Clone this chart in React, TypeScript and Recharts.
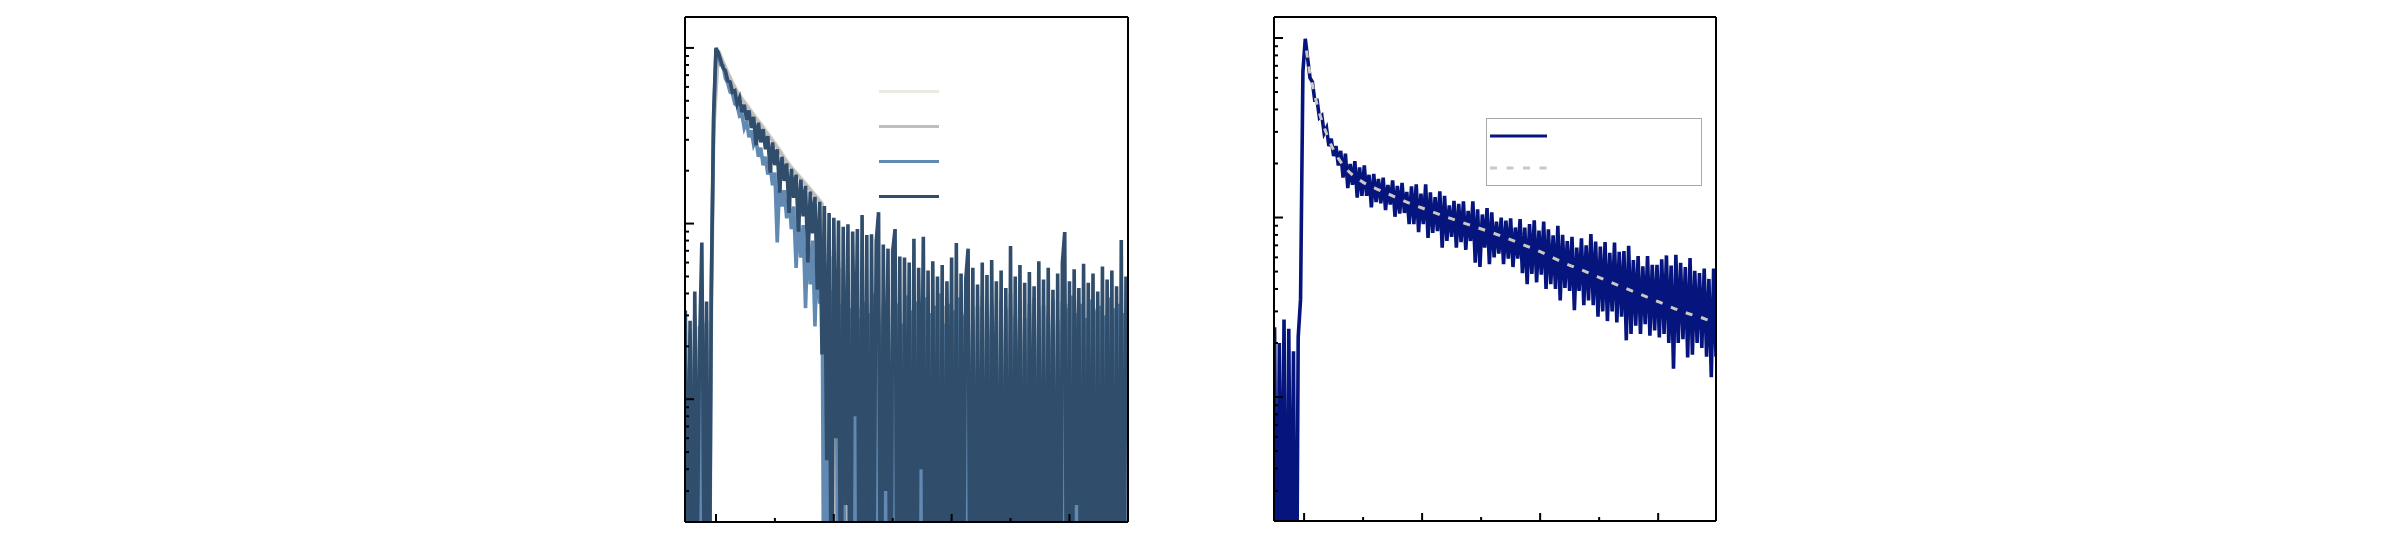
import { LineChart, Line, XAxis, YAxis, Legend } from 'recharts'

// ---- time channels (ns) ----
const LEFT_START = -2.6
const RIGHT_START = -2.5
const CHANNEL = 0.2
const COARSE_CHANNEL = 0.4

const X_TICKS = [0, 5, 10, 15, 20, 25, 30]
const Y_TICKS = [
  30, 40, 50, 60, 70, 80, 90,
  100, 200, 300, 400, 500, 600, 700, 800, 900,
  1000, 2000, 3000, 4000, 5000, 6000, 7000, 8000, 9000,
  10000,
]
const Y_MAJOR = [100, 1000, 10000]

// ---- left panel: four decays (counts) ----
const LEFT_DARK = [
  320, 6, 280, 3, 410, 12, 190, 780, 9, 360, 2, 420, 4200, 10000, 9400,
  8500, 7700, 7400, 6500, 6400, 5600, 5700, 4800, 5200, 4300,
  4750, 3900, 4400, 3500, 4050, 2800, 3750, 2900, 3450, 2650,
  3150, 1950, 2900, 2150, 2650, 1500, 2400, 1750, 2200, 1150,
  2050, 1400, 1900, 900, 1780, 1100, 1640, 600, 1520, 880,
  1420, 420, 1330, 180, 1260, 45, 1150, 3, 1080, 60,
  1040, 2, 960, 25, 990, 1, 900, 80, 930, 1,
  1120, 5, 860, 1, 870, 12, 790, 1160, 1, 760,
  30, 720, 1, 700, 930, 2, 650, 1, 640, 8,
  600, 1, 820, 1, 560, 40, 840, 1, 540, 1,
  610, 3, 500, 1, 580, 1, 470, 20, 640, 1,
  775, 1, 520, 6, 480, 720, 1, 560, 1, 450,
  2, 600, 1, 510, 1, 620, 15, 470, 1, 540,
  1, 430, 1, 745, 1, 500, 4, 580, 1, 460,
  1, 530, 10, 440, 1, 610, 1, 480, 1, 560,
  2, 420, 1, 520, 1, 600, 895, 1, 470, 1,
  550, 25, 430, 1, 590, 1, 460, 3, 520, 1,
  410, 1, 570, 1, 480, 6, 540, 1, 440, 1,
  805, 1, 500,
]

const LEFT_BLUE = [
  150, 2, 240, 3, 300, 1, 260, 2, 1, 280, 1, 380, 3900, 9800, 9000,
  8000, 7900, 6700, 6300, 5600, 5500, 4800, 4700, 4100, 4200,
  3500, 3800, 3100, 3400, 2800, 3000, 2400, 2700, 2150, 2400,
  1900, 2150, 1650, 1950, 780, 1750, 1250, 1550, 1070, 1400,
  930, 1250, 560, 1100, 640, 980, 330, 880, 450, 800,
  260, 720, 350, 650, 1, 380, 2, 420, 70, 300,
  1, 350, 1, 260, 40, 330, 1, 380, 5, 290,
  1, 360, 120, 310, 1, 400, 1, 280, 30, 340,
  1, 370, 2, 300, 1, 350, 90, 270, 1, 390,
  1, 320, 10, 360, 1, 290, 1, 380, 50, 310,
  1, 340, 1, 400, 3, 270, 1, 350, 1, 320,
  20, 380, 1, 300, 1, 360, 1, 290, 8, 340,
  1, 390, 1, 310, 60, 350, 1, 280, 1, 370,
  2, 330, 1, 400, 1, 300, 15, 360, 1, 290,
  1, 350, 1, 380, 4, 320, 1, 340, 1, 300,
  30, 370, 1, 280, 1, 360, 1, 330, 6, 390,
  1, 310, 1, 350, 1, 290, 80, 370, 1, 320,
  1, 340, 2, 300, 1, 380, 1, 330, 12, 350,
  1, 310, 1,
]

const LEFT_BEIGE = [
  200, 1, 250, 30, 180, 90, 3500,
  9700, 8400, 7300, 6400, 5700, 5200, 4800, 4400, 4050, 3750,
  3450, 3150, 2900, 2650, 2400, 2200, 2040, 1900, 1770, 1650,
  1530, 1420, 1320, 1, 700, 1, 600, 2, 320, 1,
  280, 40, 340, 1, 260, 1, 300, 10, 330, 1,
  250, 1, 310, 60, 290, 1, 340, 1, 270, 3,
  320, 1, 300, 1, 260, 20, 330, 1, 280, 1,
  310, 1, 250, 5, 320, 1, 290, 1, 340, 30,
  270, 1, 300, 1, 260, 1, 330, 8, 280, 1,
  310, 1, 250, 1, 320, 2, 290,
]

const LEFT_GRAY = [
  160, 40, 210, 1, 270, 20, 3300,
  9600, 8300, 7200, 6300, 5600, 5100, 4700, 4300, 3950, 3650,
  3350, 3080, 2830, 2590, 2350, 2150, 2000, 1860, 1730, 1610,
  1500, 1390, 1290, 2, 650, 1, 560, 1, 300, 20,
  330, 1, 270, 1, 310, 5, 280, 1, 350, 1,
  290, 40, 320, 1, 260, 1, 300, 2, 340, 1,
  280, 1, 310, 15, 270, 1, 330, 1, 300, 3,
  260, 1, 340, 1, 290, 50, 310, 1, 270, 1,
  320, 2, 280, 1, 350, 1, 300, 10, 260, 1,
  330, 1, 290, 1, 270, 4, 310,
]

// ---- right panel: measured decay + fit ----
const RIGHT_DATA = [
  245, 3, 200, 8, 270, 2, 240, 5, 180, 1, 215, 350, 6500, 9900,
  7700, 6000, 5700, 4500, 4500, 3600, 3700, 2950, 3150, 2500,
  2750, 2200, 2500, 1950,
  2350, 1670, 2270, 1460, 1990, 1520, 2060, 1290, 1900, 1320,
  1950, 1320, 1730, 1140, 1750, 1220, 1640, 1200, 1670, 1100,
  1520, 1180, 1610, 1010, 1500, 1050, 1560, 1060, 1390, 920,
  1490, 920, 1530, 830, 1360, 920, 1530, 770, 1380, 820,
  1300, 840, 1400, 680, 1320, 740, 1170, 780, 1240, 680,
  1190, 730, 1230, 660, 1090, 740, 1230, 560, 1110, 530,
  1040, 680, 1130, 550, 1070, 600, 950, 630, 1000, 550,
  960, 590, 990, 530, 880, 590, 980, 490, 880, 425,
  920, 485, 965, 435, 845, 480, 950, 400, 860, 425,
  795, 400, 900, 345, 800, 405, 740, 390, 780, 305,
  680, 390, 765, 325, 700, 345, 810, 325, 735, 280,
  690, 300, 730, 265, 635, 300, 725, 260, 645, 280,
  650, 207, 695, 225, 580, 250, 610, 225, 535, 255,
  610, 220, 545, 235, 545, 215, 585, 225, 615, 200,
  540, 144, 620, 200, 560, 210, 530, 166, 595, 172,
  505, 200, 490, 188, 520, 168, 455, 129, 520, 168,
]

const FIT_T = [
  0.2, 0.4, 0.6, 0.8, 1.0, 1.2, 1.4, 1.6, 1.8, 2.0, 2.4, 2.8, 3.2, 3.6,
  4.0, 4.4, 5.0, 6.0, 7.0, 8.0, 9.0, 10, 12, 14, 16, 18, 20, 22, 24, 26,
  28, 30, 32, 34, 34.9,
]
const FIT_V = [
  8500, 6900, 5900, 5130, 4520, 4030, 3630, 3310, 3050, 2820, 2450, 2190,
  2000, 1860, 1750, 1670, 1570, 1460, 1365, 1275, 1195, 1130, 1010, 910,
  820, 730, 645, 560, 495, 435, 385, 340, 300, 272, 258,
]

const COLORS = {
  beige: '#ECE9E1',
  gray: '#BEBEBE',
  blue: '#6189B1',
  dark: '#304E6C',
  navy: '#05157D',
  fit: '#CCC9C1',
}

// ---- tables for the library ----
const channelTime = (start: number, step: number, i: number) =>
  Math.round((start + i * step) * 100) / 100

const leftFine = LEFT_DARK.map((v, i) => ({
  t: channelTime(LEFT_START, CHANNEL, i),
  dark: v,
  blue: LEFT_BLUE[i],
}))
const leftCoarse = LEFT_BEIGE.map((v, i) => ({
  t: channelTime(LEFT_START, COARSE_CHANNEL, i),
  beige: v,
  gray: LEFT_GRAY[i],
}))
const rightRows = RIGHT_DATA.map((v, i) => ({
  t: channelTime(RIGHT_START, CHANNEL, i),
  counts: v,
}))
const fitRows = FIT_T.map((t, i) => ({ t, fit: FIT_V[i] }))

// ---- ticks: inward, major/minor ----

function XTick(props: any) {
  const { x, y, payload } = props
  const len = payload.value % 10 === 0 ? 8 : 4
  return <line x1={x} x2={x} y1={y} y2={y - len} stroke="#000" strokeWidth={2} />
}

function YTick(props: any) {
  const { x, y, payload } = props
  const len = Y_MAJOR.includes(payload.value) ? 9 : 4
  return <line x1={x} x2={x + len} y1={y} y2={y} stroke="#000" strokeWidth={2} />
}

const frameLine = { stroke: '#000', strokeWidth: 2 }
const TRACE_WIDTH = 3.6

// ---- legends (keys only, no labels) ----

const LEFT_ORDER = ['beige', 'gray', 'blue', 'dark']

function LeftKey(props: any) {
  const payload: any[] = props.payload ?? []
  return (
    <svg width={60} height={140} style={{ display: 'block' }}>
      {LEFT_ORDER.map((key, i) => {
        const entry = payload.find((p) => p.dataKey === key)
        const y = 17.5 + 35 * i
        return (
          <line
            key={key}
            x1={0}
            x2={60}
            y1={y}
            y2={y}
            stroke={entry?.color ?? (COLORS as any)[key]}
            strokeWidth={3}
          />
        )
      })}
    </svg>
  )
}

function RightKey() {
  return (
    <svg width={216} height={68} style={{ display: 'block' }}>
      <rect x={0.5} y={0.5} width={215} height={67} fill="#fff" stroke="#A8A8A8" strokeWidth={1} />
      <line x1={4} x2={61} y1={18} y2={18} stroke={COLORS.navy} strokeWidth={3} />
      <line x1={4} x2={61} y1={50} y2={50} stroke={COLORS.fit} strokeWidth={3} strokeDasharray="7 9.5" />
    </svg>
  )
}

// ---- panels ----

function LeftPanel() {
  const xDomain: [number, number] = [-2.63, 34.97]
  return (
    <LineChart width={485} height={540} margin={{ top: 16, right: 21, bottom: 17, left: 19 }}>
      <Line data={leftCoarse} dataKey="beige" name="beige" stroke={COLORS.beige} strokeWidth={TRACE_WIDTH} dot={false} activeDot={false} isAnimationActive={false} />
      <Line data={leftCoarse} dataKey="gray" name="gray" stroke={COLORS.gray} strokeWidth={TRACE_WIDTH} dot={false} activeDot={false} isAnimationActive={false} />
      <Line data={leftFine} dataKey="blue" name="blue" stroke={COLORS.blue} strokeWidth={TRACE_WIDTH} dot={false} activeDot={false} isAnimationActive={false} />
      <Line data={leftFine} dataKey="dark" name="dark" stroke={COLORS.dark} strokeWidth={TRACE_WIDTH} dot={false} activeDot={false} isAnimationActive={false} />
      <XAxis
        dataKey="t"
        type="number"
        domain={xDomain}
        allowDataOverflow
        ticks={X_TICKS}
        interval={0}
        tick={<XTick />}
        tickLine={false}
        tickSize={0}
        tickMargin={0}
        height={1}
        axisLine={frameLine}
      />
      <XAxis xAxisId="top" orientation="top" type="number" domain={xDomain} tick={false} tickLine={false} height={1} axisLine={frameLine} />
      <YAxis
        type="number"
        scale="log"
        domain={[20, 15000]}
        allowDataOverflow
        ticks={Y_TICKS}
        interval={0}
        tick={<YTick />}
        tickLine={false}
        tickSize={0}
        tickMargin={0}
        width={1}
        axisLine={frameLine}
      />
      <YAxis yAxisId="right" orientation="right" type="number" domain={[0, 1]} tick={false} tickLine={false} width={1} axisLine={frameLine} />
      <Legend
        layout="horizontal"
        verticalAlign="middle"
        align="center"
        content={(p: any) => <LeftKey {...p} />}
        wrapperStyle={{ left: 214, top: 73.5, width: 60, height: 140 }}
      />
    </LineChart>
  )
}

function RightPanel() {
  const xDomain: [number, number] = [-2.55, 34.9]
  return (
    <LineChart width={484} height={540} margin={{ top: 16, right: 21, bottom: 18, left: 19 }}>
      <Line data={rightRows} dataKey="counts" name="counts" stroke={COLORS.navy} strokeWidth={TRACE_WIDTH} dot={false} activeDot={false} isAnimationActive={false} />
      <Line
        data={fitRows}
        dataKey="fit"
        name="fit"
        type="monotone"
        stroke={COLORS.fit}
        strokeWidth={3}
        strokeDasharray="7 9"
        dot={false}
        activeDot={false}
        isAnimationActive={false}
      />
      <XAxis
        dataKey="t"
        type="number"
        domain={xDomain}
        allowDataOverflow
        ticks={X_TICKS}
        interval={0}
        tick={<XTick />}
        tickLine={false}
        tickSize={0}
        tickMargin={0}
        height={1}
        axisLine={frameLine}
      />
      <XAxis xAxisId="top" orientation="top" type="number" domain={xDomain} tick={false} tickLine={false} height={1} axisLine={frameLine} />
      <YAxis
        type="number"
        scale="log"
        domain={[20.4, 13090]}
        allowDataOverflow
        ticks={Y_TICKS}
        interval={0}
        tick={<YTick />}
        tickLine={false}
        tickSize={0}
        tickMargin={0}
        width={1}
        axisLine={frameLine}
      />
      <YAxis yAxisId="right" orientation="right" type="number" domain={[0, 1]} tick={false} tickLine={false} width={1} axisLine={frameLine} />
      <Legend
        layout="horizontal"
        verticalAlign="middle"
        align="center"
        content={() => <RightKey />}
        wrapperStyle={{ left: 232, top: 118, width: 216, height: 68 }}
      />
    </LineChart>
  )
}

export default function App() {
  return (
    <div style={{ position: 'absolute', left: 0, top: 0, width: 2400, height: 540, background: '#fff' }}>
      <div style={{ position: 'absolute', left: 665, top: 0 }}>
        <LeftPanel />
      </div>
      <div style={{ position: 'absolute', left: 1254, top: 0 }}>
        <RightPanel />
      </div>
    </div>
  )
}
